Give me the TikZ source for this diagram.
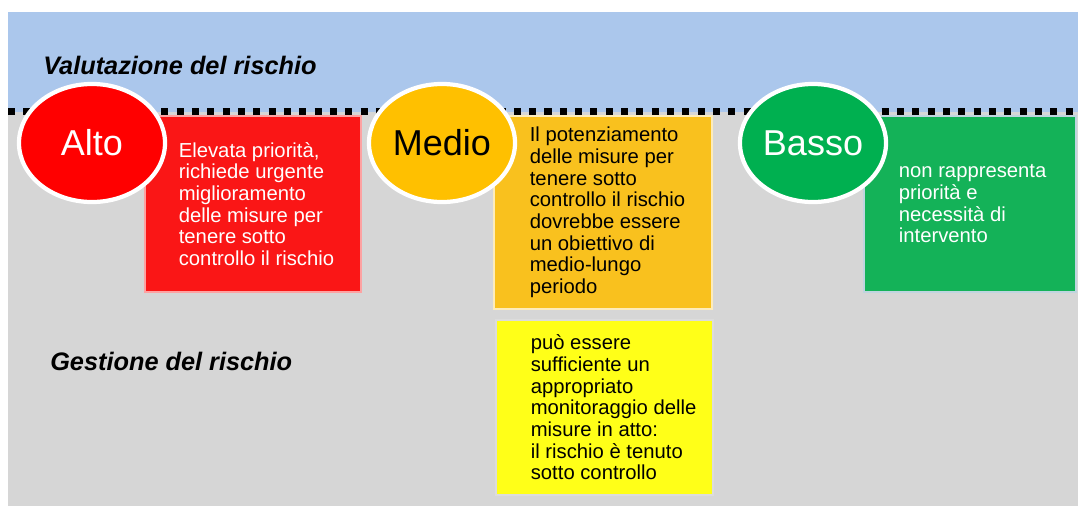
\documentclass[tikz,border=0pt]{standalone}
\usepackage{fontspec}
\setmainfont{Liberation Sans}
\usetikzlibrary{shapes.geometric,positioning}
\usepackage{xcolor}

\definecolor{cielo}{RGB}{171,199,236}
\definecolor{grigio}{RGB}{214,214,214}
\definecolor{rosso}{RGB}{255,0,0}
\definecolor{rossobox}{RGB}{250,22,22}
\definecolor{arancio}{RGB}{255,192,0}
\definecolor{aranciobox}{RGB}{249,193,30}
\definecolor{giallo}{RGB}{255,255,24}
\definecolor{verde}{RGB}{0,176,80}
\definecolor{verdebox}{RGB}{20,178,88}

\tikzset{
  livello/.style={ellipse,draw=white,line width=3pt,minimum width=3.65cm,minimum height=2.95cm,inner sep=0pt,font=\fontsize{25.6}{30}\selectfont},
  riquadro/.style={rectangle,line width=2pt,inner sep=0pt},
  testo/.style={inner sep=0pt,align=left,font=\fontsize{14.4}{15.4}\selectfont},
  titolo/.style={anchor=base west,inner sep=0pt,font=\fontsize{18}{21}\selectfont\bfseries\itshape}
}

\begin{document}
\begin{tikzpicture}[x=0.025cm,y=-0.025cm]
			\useasboundingbox (0,0) rectangle (1078,506);
			%sfondo
			\fill[grigio] (8,112) rectangle (1078,506);
			\fill[cielo] (8,12) rectangle (1078,112);
			\draw[line width=5pt,dash pattern=on 5pt off 5.9pt] (8,111.5) -- (1078,111.5);
			%titoli
			\node[titolo] (valutazione) at (43,74) {Valutazione del rischio};
			\node[titolo] (gestione) at (50,370) {Gestione del rischio};
			%riquadri
			\node[riquadro,fill=rossobox,draw=rossobox!40!white,minimum width=5.4cm,minimum height=4.4cm] (boxAlto) at (253,204) {};
			\node[riquadro,fill=aranciobox,draw=aranciobox!30!white,minimum width=5.45cm,minimum height=4.825cm] (boxMedio) at (603,212.5) {};
			\node[riquadro,fill=giallo,draw=grigio!85!white,minimum width=5.425cm,minimum height=4.375cm] (boxMonit) at (604.5,407.5) {};
			\node[riquadro,fill=verdebox,draw=cyan!15!grigio,minimum width=5.3cm,minimum height=4.4cm] (boxBasso) at (970,204) {};
			%testi
			\node[testo,text=white,right=0.875cm of boxAlto.west] (descAlto) {Elevata priorità,\\richiede urgente\\miglioramento\\delle misure per\\tenere sotto\\controllo il rischio};
			\node[testo,right=0.925cm of boxMedio.west] (descMedio) {Il potenziamento\\delle misure per\\tenere sotto\\controllo il rischio\\dovrebbe essere\\un obiettivo di\\medio-lungo\\periodo};
			\node[testo,right=0.9cm of boxMonit.west] (descMonit) {può essere\\sufficiente un\\appropriato\\monitoraggio delle\\misure in atto:\\il rischio è tenuto\\sotto controllo};
			\node[testo,text=white,right=0.9cm of boxBasso.west] (descBasso) {non rappresenta\\priorità e\\necessità di\\intervento};
			%livelli di rischio
			\node[livello,fill=rosso,text=white] (alto) at (92,143) {Alto};
			\node[livello,fill=arancio] (medio) at (442,143) {Medio};
			\node[livello,fill=verde,text=white] (basso) at (813,143) {Basso};
		\end{tikzpicture}
\end{document}
